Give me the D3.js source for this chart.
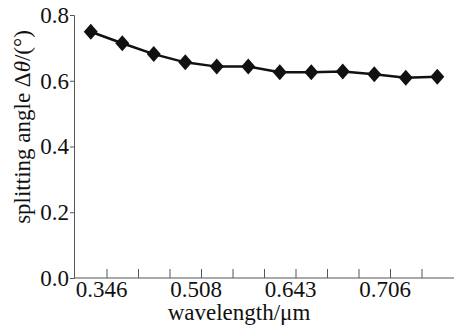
<!DOCTYPE html>
<html>
<head>
<meta charset="utf-8">
<script src="https://cdn.jsdelivr.net/npm/d3@7"></script>
<style>
  body { margin: 0; background: #fff; }
  svg { display: block; }
  text { font-family: "Liberation Serif", "DejaVu Serif", serif; }
</style>
</head>
<body>
<div id="chart"></div>
<script>
// данные
const categories = ["p1", "p2", "p3", "p4", "p5", "p6", "p7", "p8", "p9", "p10", "p11", "p12"];
const angles = [0.749, 0.714, 0.681, 0.656, 0.643, 0.643, 0.626, 0.626, 0.628, 0.620, 0.609, 0.612];
const xTickLabels = ["0.346", "", "", "0.508", "", "", "0.643", "", "", "0.706", ""];
const yTicks = [0.0, 0.2, 0.4, 0.6, 0.8];

const width = 454;
const height = 329;

const svg = d3.select("#chart").append("svg")
    .attr("width", width)
    .attr("height", height);

const x = d3.scaleBand()
    .domain(categories)
    .range([75, 453])
    .padding(0);

const y = d3.scaleLinear()
    .domain([0, 0.8])
    .range([278, 15]);

// ось Y
const yAxis = svg.append("g")
    .attr("transform", "translate(74,0)")
    .call(d3.axisLeft(y).tickValues(yTicks).tickSize(4).tickPadding(1).tickFormat(d3.format(".1f")));
yAxis.attr("font-family", null);
yAxis.select(".domain").attr("stroke", "#555").attr("stroke-width", 1);
yAxis.selectAll(".tick line").attr("stroke", "#555");
yAxis.selectAll(".tick text")
    .attr("font-size", "23px")
    .attr("fill", "#111");

// ось X: засечки на границах полос
const tickPos = categories.slice(0, -1).map(c => x(c) + x.bandwidth());
const xAxisScale = d3.scaleLinear().domain([0, width]).range([0, width]);
const xAxis = svg.append("g")
    .attr("transform", "translate(0,278)")
    .call(d3.axisTop(xAxisScale).tickValues(tickPos).tickSize(9).tickFormat(""));
xAxis.select(".domain").attr("d", `M74,0H${width}`).attr("stroke", "#555");
xAxis.selectAll(".tick line").attr("stroke", "#555");

svg.append("g")
    .selectAll("text")
    .data(tickPos)
    .enter().append("text")
    .attr("x", d => d - 5)
    .attr("y", 297)
    .attr("text-anchor", "middle")
    .attr("font-size", "23px")
    .attr("fill", "#111")
    .text((d, i) => xTickLabels[i]);

// подписи осей
svg.append("text")
    .attr("x", 239)
    .attr("y", 320)
    .attr("text-anchor", "middle")
    .attr("font-size", "23px")
    .attr("fill", "#111")
    .text("wavelength/μm");

const yLabel = svg.append("text")
    .attr("transform", "translate(30,127) rotate(-90)")
    .attr("text-anchor", "middle")
    .attr("font-size", "23px")
    .attr("fill", "#111");
yLabel.append("tspan").text("splitting angle Δ");
yLabel.append("tspan").attr("font-style", "italic").text("θ");
yLabel.append("tspan").text("/(°)");

// линия и маркеры
const line = d3.line()
    .x((d, i) => x(categories[i]) + x.bandwidth() / 2)
    .y(d => y(d));

svg.append("path")
    .datum(angles)
    .attr("fill", "none")
    .attr("stroke", "#111")
    .attr("stroke-width", 2.5)
    .attr("d", line);

svg.append("g")
    .selectAll("path")
    .data(angles)
    .enter().append("path")
    .attr("d", "M0,-8L7,0L0,8L-7,0Z")
    .attr("fill", "#111")
    .attr("transform", (d, i) => `translate(${x(categories[i]) + x.bandwidth() / 2},${y(d)})`);
</script>
</body>
</html>
